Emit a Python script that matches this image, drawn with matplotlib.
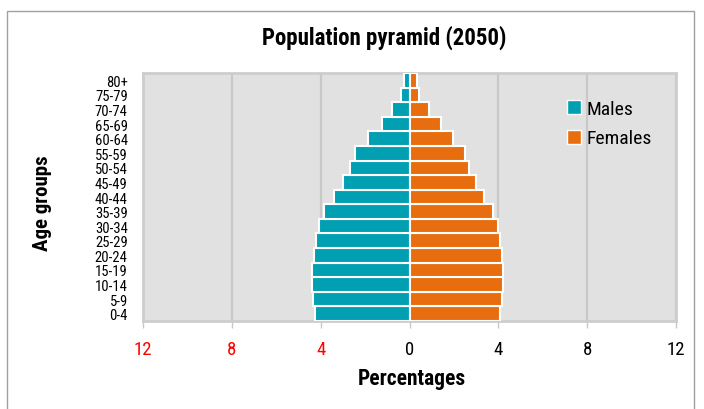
import matplotlib
matplotlib.use("Agg")
import matplotlib.pyplot as plt
from matplotlib import font_manager
from matplotlib.patches import Rectangle
from matplotlib.lines import Line2D

ages = ["0-4", "5-9", "10-14", "15-19", "20-24", "25-29", "30-34", "35-39",
        "40-44", "45-49", "50-54", "55-59", "60-64", "65-69", "70-74", "75-79", "80+"]
males = [4.27, 4.36, 4.41, 4.39, 4.32, 4.21, 4.09, 3.83,
         3.41, 2.99, 2.68, 2.44, 1.86, 1.26, 0.78, 0.38, 0.23]
females = [4.07, 4.15, 4.20, 4.21, 4.16, 4.09, 3.98, 3.76,
           3.35, 2.99, 2.68, 2.51, 1.95, 1.41, 0.89, 0.44, 0.35]
xticks = [-12, -8, -4, 0, 4, 8, 12]
xticklabels = ["12", "8", "4", "0", "4", "8", "12"]
xtick_colors = ["red", "red", "red", "black", "black", "black", "black"]

names = {f.name for f in font_manager.fontManager.ttflist}
fam = "DejaVu Sans"
for cand in ["Liberation Sans Narrow", "Roboto Condensed", "Open Sans Condensed", "Liberation Sans"]:
    if cand in names:
        fam = cand
        break
plt.rcParams["font.family"] = [fam, "DejaVu Sans"]

male_c = "#009FB1"
female_c = "#E76D0E"

fig = plt.figure(figsize=(7.04, 4.10), dpi=100)
W, H = 704, 410
ax = fig.add_axes([143 / W, 1 - 322 / H, (676 - 143) / W, (322 - 74) / H])
ax.set_facecolor("#E1E1E1")

y = list(range(len(ages)))
ax.barh(y, [-m for m in males], height=1.0, color=male_c, edgecolor="white", linewidth=1.5, zorder=3)
ax.barh(y, females, height=1.0, color=female_c, edgecolor="white", linewidth=1.5, zorder=3)

ax.set_xlim(-12, 12)
ax.set_ylim(-0.5, len(ages) - 0.5)
ax.set_xticks(xticks)
ax.set_xticklabels(xticklabels, fontsize=13.5)
for lbl, c in zip(ax.get_xticklabels(), xtick_colors):
    lbl.set_color(c)
ax.set_yticks(y)
ax.set_yticklabels(ages, fontsize=10.5)
ax.tick_params(axis="y", length=0, pad=11)
ax.tick_params(axis="x", length=5, width=1, color="#C8C8C8", pad=9)
ax.grid(axis="x", color="#C8C8C8", linewidth=1.6, zorder=0)
ax.grid(axis="y", visible=False)
for s in ax.spines.values():
    s.set_color("#CDCDCD")
    s.set_linewidth(2)

leg_handles = [
    Line2D([], [], marker="s", linestyle="none", markersize=9.5, markerfacecolor=male_c,
           markeredgecolor="white", markeredgewidth=1),
    Line2D([], [], marker="s", linestyle="none", markersize=9.5, markerfacecolor=female_c,
           markeredgecolor="white", markeredgewidth=1),
]
leg = ax.legend(leg_handles, ["Males", "Females"], loc="upper left",
                bbox_to_anchor=((556 - 143) / (676 - 143), 1 - (93 - 74) / (322 - 74)),
                frameon=False, fontsize=14, handletextpad=0.15, labelspacing=0.6,
                handlelength=1.0, borderaxespad=0)

fig.text(384 / W, 1 - 38 / H, "Population pyramid (2050)", ha="center", va="center",
         fontsize=16.5, fontweight="bold")
fig.text(412 / W, 1 - 379 / H, "Percentages", ha="center", va="center",
         fontsize=15.5, fontweight="bold")
fig.text(43 / W, 1 - 203 / H, "Age groups", ha="center", va="center", rotation=90,
         fontsize=15, fontweight="bold")

fig.patches.append(Rectangle((7 / W, -0.05), (694 - 7) / W, 1 - 12 / H + 0.05,
                             transform=fig.transFigure, fill=False,
                             edgecolor="#A0A0A0", linewidth=1))

fig.savefig("out.png", dpi=100)
